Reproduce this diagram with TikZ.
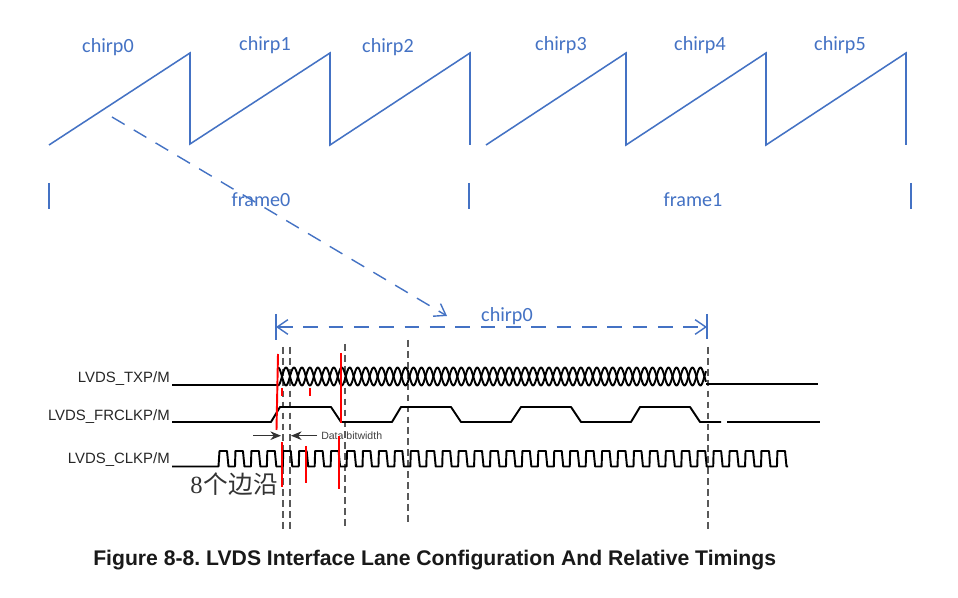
\documentclass[tikz,border=0pt]{standalone}
\usepackage{fontspec}
\setmainfont{Liberation Sans}
\newfontfamily\calib{Carlito}
\newfontfamily\cjk{Noto Sans CJK SC}
\newfontfamily\serifd{Liberation Serif}
\usetikzlibrary{arrows.meta}
\definecolor{office}{HTML}{4472C4}
\frenchspacing
\tikzset{
  chirpline/.style={draw=office,line width=1.15pt,line join=miter},
  bluelabel/.style={text=office,font=\calib\fontsize{15.1}{17}\selectfont,inner sep=0pt,anchor=center},
  framelabel/.style={bluelabel},
  framemark/.style={draw=office,line width=1.1pt},
  bluedash/.style={draw=office,line width=1.05pt,dash pattern=on 11pt off 8pt},
  sig/.style={draw=black,line width=1.45pt,line join=round},
  siglabel/.style={text=black!85,font=\fontsize{11.2}{13}\selectfont,inner sep=0pt,anchor=east},
  guide/.style={draw=black!65,line width=0.8pt,dash pattern=on 5pt off 3.2pt},
  redmark/.style={draw=red,line width=1.45pt},
  bitarrow/.style={draw=black!80,line width=0.8pt,-{Stealth[length=8pt,width=6.5pt]}},
}
\begin{document}
\begin{tikzpicture}[x=0.75pt,y=-0.75pt]
\useasboundingbox[fill=white] (0,0) rectangle (958,598);
% chirps
\draw[chirpline] (49,145)--(190,53)--(190,144)--(330,53)--(330,145)--(470,53)--(470,145);
\draw[chirpline] (486,145)--(626,53)--(626,145)--(766,53)--(766,145)--(906,53)--(906,145);
\node[bluelabel] (c0) at (108,47) {chirp0};
\node[bluelabel] (c1) at (265,45) {chirp1};
\node[bluelabel] (c2) at (388,47) {chirp2};
\node[bluelabel] (c3) at (561,45) {chirp3};
\node[bluelabel] (c4) at (700,45) {chirp4};
\node[bluelabel] (c5) at (840,45) {chirp5};
% frames
\draw[framemark] (49,183)--(49,209);
\draw[framemark] (469,183)--(469,209);
\draw[framemark] (911,183)--(911,209);
\node[framelabel] (f0) at (261,200) {frame0};
\node[framelabel] (f1) at (693,200) {frame1};
% pointer
\coordinate (ps) at (112,117);
\coordinate (pe) at (447,316);
\draw[bluedash,-{Straight Barb[length=8pt,width=11pt]}] (ps)--(pe);
% chirp0 dimension
\coordinate (dl) at (276,327);
\coordinate (dr) at (707,327);
\draw[bluedash,{Straight Barb[length=8pt,width=11pt]}-{Straight Barb[length=8pt,width=11pt]}] (dl)--(dr);
\draw[framemark] (276,314)--(276,340);
\draw[framemark] (707,314)--(707,339);
\node[bluelabel] (cz) at (507,316) {chirp0};
% guides
\draw[guide] (283,347)--(283,529);
\draw[guide] (290,347)--(290,529);
\draw[guide] (345,344)--(345,527);
\draw[guide] (408,340)--(408,525);
\draw[guide] (708,347)--(708,530);
% TXP
\draw[sig] (172,385)--(278,385);
\draw[sig] plot[domain=278:706,samples=500] (\x,{376.5+9*sin((\x-278)/7.97*180-90)});
\draw[sig] plot[domain=278:706,samples=500] (\x,{376.5-9*sin((\x-278)/7.97*180-90)});
\draw[sig] (706,384.2)--(818,384.2);
% FRCLK
\draw[sig] (172,422)--(271,422)--(280,407)--(331,407)--(341,422)--(392,422)--(401,407)--(451,407)--(461,422)--(511,422)--(521,407)--(571,407)--(581,422)--(631,422)--(640,407)--(690,407)--(700,422)--(721,422);
\draw[sig] (727,422)--(820,422);
% CLK
\draw[sig] (172,466.5)--(218.5,466.5)
 \foreach \k in {0,...,34}{ -- ({219.5+15.94*\k},451) -- ({227+15.94*\k},451) -- ({228.5+15.94*\k},466.5) -- ({235+15.94*\k},466.5)} -- (777.4,451) -- (785,451) -- (786.5,466.5) -- (788,466.5);
% labels
\node[siglabel] (ltxp) at (170,379) {LVDS\_TXP/M};
\node[siglabel] (lfr) at (170,417) {LVDS\_FRCLKP/M};
\node[siglabel] (lclk) at (170,460) {LVDS\_CLKP/M};
% bit width
\coordinate (a1) at (253,435.7);
\coordinate (a2) at (281,435.7);
\coordinate (b1) at (317,435.7);
\coordinate (b2) at (291,435.7);
\draw[bitarrow] (a1)--(a2);
\draw[bitarrow] (b1)--(b2);
\node[inner sep=0pt,anchor=west,text=black!75,font=\fontsize{7.9}{9}\selectfont] (dbw) at (321,435.5) {Data bitwidth};
% red marks
\draw[redmark] (278,354)--(276.5,430);
\draw[redmark] (282,388)--(282,396);
\draw[redmark] (310,388)--(310,396);
\draw[redmark] (341,353)--(341,423);
\draw[redmark] (282,442)--(282,487);
\draw[redmark] (306,446)--(306,483);
\draw[redmark] (339,436)--(339,489);
% chinese
\node[inner sep=0pt,anchor=west,text=black!80,font=\fontsize{18.5}{20}\selectfont] (edge) at (190,484) {{\serifd 8}\hspace{1pt}{\cjk 个边沿}};
% caption
\node[inner sep=0pt,anchor=west,text=black!90,font=\bfseries\fontsize{15.88}{18}\selectfont] (cap) at (93,560) {Figure 8-8. LVDS Interface Lane Configuration And Relative Timings};
\end{tikzpicture}
\end{document}
